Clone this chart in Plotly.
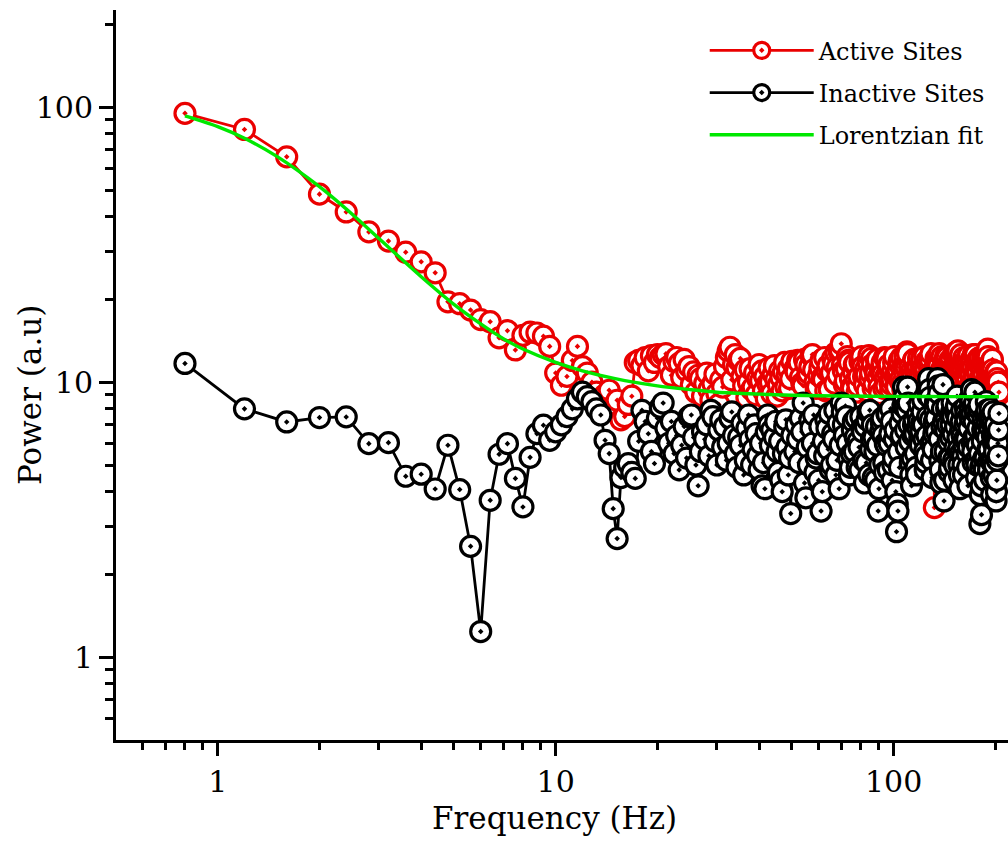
import math
import plotly.graph_objects as go

# ---------------- data ----------------
freq_low = [0.8, 1.2, 1.6, 2.0, 2.4, 2.8, 3.2, 3.6, 4.0, 4.4, 4.8, 5.2, 5.6, 6.0, 6.4, 6.8,
            7.2, 7.6, 8.0, 8.4, 8.8, 9.2, 9.6, 10.0, 10.4, 10.8, 11.2, 11.6, 12.0, 12.4,
            12.8, 13.2, 13.6, 14.0, 14.4, 14.8, 15.2, 15.6, 16.0, 16.4, 16.8, 17.2, 17.6,
            18.0, 18.4, 18.8, 19.2, 19.6, 20.0]
freq_mid = [20.4, 20.8, 21.2, 21.6, 22.0, 22.4, 22.8, 23.2, 23.6, 24.0, 24.4, 24.8, 25.2,
            25.6, 26.0, 26.4, 26.8, 27.2, 27.6, 28.0, 28.4, 28.8, 29.2, 29.6, 30.0, 30.4,
            30.8, 31.2, 31.6, 32.0, 32.4, 32.8, 33.2, 33.6, 34.0, 34.4, 34.8, 35.2, 35.6,
            36.0, 36.4, 36.8, 37.2, 37.6, 38.0, 38.4, 38.8, 39.2, 39.6, 40.0, 40.4, 40.8,
            41.2, 41.6, 42.0, 42.4, 42.8, 43.2, 43.6, 44.0, 44.4, 44.8, 45.2, 45.6, 46.0,
            46.4, 46.8, 47.2, 47.6, 48.0, 48.4, 48.8, 49.2, 49.6, 50.0]
freq_high = [51, 52, 53, 54, 55, 56, 57, 58, 59, 60, 61, 62, 63, 64, 65, 66, 67, 68, 69, 70,
             71, 72, 73, 74, 75, 76, 77, 78, 79, 80, 81, 82, 83, 84, 85, 86, 87, 88, 89, 90,
             91, 92, 93, 94, 95, 96, 97, 98, 99, 100, 101, 102, 103, 104, 105, 106, 107, 108,
             109, 110, 111, 112, 113, 114, 115, 116, 117, 118, 119, 120, 121, 122, 123, 124,
             125, 126, 127, 128, 129, 130, 131, 132, 133, 134, 135, 136, 137, 138, 139, 140,
             141, 142, 143, 144, 145, 146, 147, 148, 149, 150, 151, 152, 153, 154, 155, 156,
             157, 158, 159, 160, 161, 162, 163, 164, 165, 166, 167, 168, 169, 170, 171, 172,
             173, 174, 175, 176, 177, 178, 179, 180, 181, 182, 183, 184, 185, 186, 187, 188,
             189, 190, 191, 192, 193, 194, 195, 196, 197, 198, 199, 200, 201, 202, 203, 204,
             205]
freq_half = [51.5, 52.5, 53.5, 54.5, 55.5, 56.5, 57.5, 58.5, 59.5, 60.5,
             61.5, 62.5, 63.5, 64.5, 65.5, 66.5, 67.5, 68.5, 69.5, 70.5,
             71.5, 72.5, 73.5, 74.5, 75.5, 76.5, 77.5, 78.5, 79.5, 80.5,
             81.5, 82.5, 83.5, 84.5, 85.5, 86.5, 87.5, 88.5, 89.5, 90.5,
             91.5, 92.5, 93.5, 94.5, 95.5, 96.5, 97.5, 98.5, 99.5, 100.5,
             101.5, 102.5, 103.5, 104.5, 105.5, 106.5, 107.5, 108.5, 109.5, 110.5,
             111.5, 112.5, 113.5, 114.5, 115.5, 116.5, 117.5, 118.5, 119.5, 120.5,
             121.5, 122.5, 123.5, 124.5, 125.5, 126.5, 127.5, 128.5, 129.5, 130.5,
             131.5, 132.5, 133.5, 134.5, 135.5, 136.5, 137.5, 138.5, 139.5, 140.5,
             141.5, 142.5, 143.5, 144.5, 145.5, 146.5, 147.5, 148.5, 149.5, 150.5,
             151.5, 152.5, 153.5, 154.5, 155.5, 156.5, 157.5, 158.5, 159.5, 160.5,
             161.5, 162.5, 163.5, 164.5, 165.5, 166.5, 167.5, 168.5, 169.5, 170.5,
             171.5, 172.5, 173.5, 174.5, 175.5, 176.5, 177.5, 178.5, 179.5, 180.5,
             181.5, 182.5, 183.5, 184.5, 185.5, 186.5, 187.5, 188.5, 189.5, 190.5,
             191.5, 192.5, 193.5, 194.5, 195.5, 196.5, 197.5, 198.5, 199.5, 200.5,
             201.5, 202.5, 203.5, 204.5]

active_low = [95, 83, 66, 48.3, 41.6, 35.2, 32.6, 29.7, 27.4, 25.0, 19.6, 19.3, 18.3, 16.9,
              16.6, 14.5, 15.4, 13.1, 14.8, 15.2, 15.1, 14.7, 13.5, 10.8, 9.75, 10.5, 12.0,
              13.5, 11.4, 10.8, 10.0, 9.2, 8.7, 9.0, 9.35, 8.2, 8.6, 7.3, 7.5, 8.3, 8.9, 11.8,
              12.0, 11.5, 12.3, 11.0, 12.5, 11.8, 12.6]
active_mid = [12.3, 12.6, 12.7, 11.4, 10.6, 11.9, 12.3, 11.7, 10.4, 12.1, 11.0, 11.4, 9.8,
              10.9, 9.2, 10.6, 10.3, 8.9, 9.9, 10.8, 9.4, 8.6, 9.9, 10.7, 9.1, 8.3, 10.2, 9.6,
              11.4, 12.3, 13.0, 13.4, 10.2, 11.6, 12.6, 11.3, 12.0, 12.2, 10.5, 9.7, 11.1,
              8.8, 10.0, 11.2, 9.4, 9.6, 10.8, 9.0, 10.3, 11.6, 10.1, 11.0, 9.3, 10.5, 8.7,
              9.9, 11.3, 10.0, 9.1, 10.7, 11.5, 10.2, 8.9, 9.8, 11.0, 10.4, 9.3, 10.9, 11.8,
              9.6, 10.6, 11.2, 9.5, 10.3, 11.9]
active_high = [11.2, 12.0, 10.4, 9.7, 11.6, 10.8, 12.5, 11.1, 9.5, 10.6, 12.0, 10.2, 9.3,
               11.5, 10.7, 12.2, 9.9, 11.3, 12.9, 13.8, 11.0, 10.1, 12.4, 11.8, 9.6, 10.9,
               11.7, 9.2, 10.5, 12.1, 11.4, 9.8, 10.6, 11.9, 10.3, 12.2, 9.5, 11.0, 12.0, 10.4,
               9.1, 11.3, 10.7, 12.3, 9.7, 10.8, 11.6, 9.4, 10.2, 11.8, 10.5, 9.6, 11.1, 12.0,
               10.3, 9.9, 11.5, 12.4, 11.2, 12.7, 10.0, 9.4, 11.0, 10.6, 12.1, 9.8, 10.9, 11.4,
               9.5, 10.7, 12.2, 11.3, 9.7, 10.4, 11.9, 10.1, 9.3, 11.6, 12.7, 10.8, 9.6, 3.5,
               11.2, 10.3, 12.0, 11.5, 9.9, 10.6, 12.4, 11.1, 9.4, 10.8, 11.7, 12.3, 10.2, 9.6,
               11.0, 12.1, 10.5, 9.8, 11.4, 10.7, 12.5, 11.3, 13.0, 10.4, 9.7, 12.6, 11.2, 10.0,
               9.5, 11.8, 11.4, 10.3, 12.2, 11.0, 9.6, 10.8, 12.0, 11.5, 9.9, 12.6, 10.6, 9.3,
               11.2, 11.9, 10.1, 9.7, 11.6, 12.3, 10.4, 9.8, 11.1, 12.0, 10.7, 9.4, 11.3, 12.5,
               12.8, 13.2, 11.0, 10.2, 11.7, 9.6, 10.8, 12.1, 10.4, 9.5, 9.1, 10.6, 9.8, 10.9,
               9.3, 10.0, 9.2]
active_half = [10.9, 11.8, 9.9, 12.1, 10.5, 11.4, 12.6, 10.0, 9.6, 11.3,
               10.4, 12.3, 11.0, 9.4, 10.8, 11.7, 12.8, 10.6, 13.1, 11.5,
               9.8, 11.2, 12.0, 10.3, 9.5, 11.6, 10.2, 9.7, 11.9, 12.4,
               10.5, 11.1, 9.3, 12.5, 10.8, 11.6, 9.9, 10.7, 12.1, 9.6,
               10.9, 11.8, 9.5, 10.4, 12.2, 11.3, 10.0, 9.8, 11.0, 12.4,
               9.7, 10.6, 11.7, 10.1, 12.3, 9.4, 10.9, 11.5, 12.9, 10.5,
               11.3, 9.9, 10.4, 12.0, 11.1, 9.5, 10.7, 12.2, 10.0, 11.6,
               9.7, 10.8, 12.4, 11.2, 9.4, 10.5, 11.9, 12.1, 10.3, 11.0,
               9.6, 10.7, 12.2, 11.4, 9.9, 12.7, 10.4, 11.1, 9.5, 11.8,
               10.9, 12.4, 9.7, 10.5, 11.6, 12.0, 9.8, 10.6, 11.3, 12.6,
               10.1, 11.7, 12.9, 9.6, 10.8, 11.5, 12.2, 10.3, 9.4, 11.0,
               12.3, 10.6, 9.8, 11.9, 10.2, 12.5, 11.1, 9.5, 10.7, 12.1,
               11.3, 9.9, 10.5, 12.6, 11.0, 9.6, 10.9, 12.2, 11.6, 10.0,
               9.7, 11.4, 12.3, 10.4, 11.8, 9.9, 12.7, 11.2, 10.6, 12.4,
               10.1, 11.5, 9.8, 10.7, 12.0, 11.1, 9.4, 10.4, 9.7, 10.9,
               9.5, 10.3, 9.9, 9.0]

inactive_low = [11.7, 8.0, 7.17, 7.44, 7.48, 5.98, 6.03, 4.55, 4.63, 4.09, 5.90, 4.07, 2.53,
                1.24, 3.72, 5.47, 5.98, 4.47, 3.52, 5.33, 6.5, 6.98, 6.15, 6.6, 7.0, 7.5, 8.0,
                8.7, 9.2, 8.86, 8.5, 8.0, 7.6, 6.15, 5.5, 3.47, 2.70, 4.5, 4.9, 5.06, 4.7, 4.47,
                6.1, 7.9, 7.2, 6.5, 5.6, 5.06, 7.4]
inactive_mid = [8.1, 8.4, 6.8, 6.0, 7.2, 5.5, 6.4, 4.8, 5.9, 6.9, 5.3, 7.5, 7.6, 6.3, 5.0,
                4.2, 5.6, 6.6, 6.2, 7.0, 5.4, 7.9, 7.5, 6.1, 5.0, 6.7, 7.3, 5.8, 6.9, 5.2, 6.0,
                7.4, 7.8, 6.4, 5.5, 4.9, 6.3, 5.9, 7.1, 4.6, 5.2, 6.8, 7.6, 6.2, 5.0, 5.7, 7.0,
                6.5, 5.4, 4.8, 6.0, 4.2, 5.1, 4.1, 6.6, 7.6, 7.0, 5.9, 6.7, 5.2, 6.3, 7.2, 5.6,
                4.7, 6.1, 4.4, 4.0, 5.5, 6.9, 7.3, 5.8, 4.6, 5.3, 3.33, 6.4]
inactive_high = [5.6, 6.2, 7.4, 8.4, 3.8, 5.0, 6.8, 7.6, 5.3, 4.4, 3.4, 6.1, 7.3, 5.7, 4.8,
                 6.5, 7.9, 5.2, 4.1, 8.4, 7.0, 8.2, 6.0, 4.6, 5.5, 7.2, 6.3, 4.9, 5.8, 7.5, 6.6,
                 4.3, 5.1, 7.8, 7.9, 6.2, 4.5, 5.6, 6.9, 3.4, 5.0, 7.1, 6.4, 4.7, 5.9, 7.6, 6.0,
                 8.0, 4.4, 5.3, 6.7, 2.86, 3.4, 4.9, 6.3, 7.7, 9.6, 8.1, 5.8, 9.6, 7.0, 5.1, 4.2,
                 6.4, 7.3, 5.5, 4.6, 6.8, 8.3, 5.9, 7.1, 8.6, 6.2, 4.8, 5.4, 7.5, 10.3, 8.8, 6.0,
                 4.5, 5.7, 7.2, 8.5, 6.6, 10.3, 9.1, 5.2, 4.3, 6.9, 9.8, 3.7, 5.6, 7.4, 8.2, 6.1,
                 4.7, 5.3, 7.0, 8.4, 6.5, 4.4, 5.8, 7.7, 8.9, 6.3, 5.0, 4.1, 6.7, 7.9, 5.4, 4.6,
                 6.2, 8.1, 7.3, 5.5, 4.2, 6.8, 8.7, 7.4, 9.4, 6.0, 5.1, 7.2, 9.2, 6.4, 4.5, 5.9,
                 7.6, 8.3, 3.06, 4.9, 3.3, 6.1, 7.4, 5.3, 4.4, 6.6, 8.5, 7.1, 5.7, 4.8, 6.9, 8.0,
                 5.2, 3.9, 6.4, 7.8, 4.6, 5.6, 7.0, 3.7, 4.4, 6.3, 5.4, 7.7]
inactive_half = [7.0, 5.1, 6.6, 4.3, 5.8, 7.3, 6.0, 4.7, 5.5, 6.9,
                 4.0, 5.4, 6.8, 7.7, 5.0, 6.2, 4.6, 7.1, 5.9, 7.8,
                 6.4, 7.5, 5.3, 4.9, 6.7, 5.6, 7.4, 6.1, 4.8, 6.8,
                 5.2, 6.9, 7.3, 4.6, 5.7, 7.0, 6.3, 4.4, 5.9, 4.1,
                 6.6, 7.4, 5.1, 6.0, 7.7, 4.8, 6.5, 7.2, 5.0, 6.2,
                 4.0, 3.6, 5.6, 7.1, 6.4, 8.2, 8.8, 6.7, 7.9, 8.4,
                 6.1, 4.6, 5.3, 7.0, 6.5, 4.9, 7.6, 7.2, 6.3, 6.6,
                 7.8, 7.0, 5.6, 5.1, 6.4, 8.9, 9.4, 7.3, 5.2, 6.1,
                 6.5, 7.9, 7.4, 8.3, 9.7, 6.2, 4.8, 5.6, 8.0, 7.2,
                 4.4, 6.7, 8.0, 7.0, 5.3, 4.9, 6.3, 7.8, 7.5, 5.2,
                 5.0, 6.9, 8.2, 7.4, 5.7, 4.6, 5.5, 7.2, 6.4, 5.0,
                 5.9, 7.0, 7.7, 6.2, 4.9, 5.8, 7.6, 8.0, 8.6, 7.7,
                 5.6, 6.3, 8.4, 7.8, 5.2, 5.0, 6.8, 8.0, 5.5, 3.9,
                 4.2, 5.1, 6.7, 6.6, 4.8, 5.3, 7.5, 7.9, 6.3, 5.1,
                 5.7, 7.6, 7.2, 4.5, 5.1, 7.1, 6.0, 5.0, 6.4, 6.1,
                 4.0, 5.2, 6.0, 6.7]

fit_freq = [0.8, 1.0, 1.2, 1.5, 2.0, 2.5, 3.0, 4.0, 5.0, 6.0, 7.0, 8.0, 10, 12, 15, 20, 25,
            30, 40, 50, 70, 100, 150, 205]
fit_power = [93.0, 85.0, 77.1, 66.1, 51.4, 40.8, 33.3, 24.2, 19.2, 16.3, 14.4, 13.2, 11.8,
             11.0, 10.3, 9.7, 9.4, 9.2, 9.05, 8.97, 8.91, 8.88, 8.86, 8.855]

x_ticks = [1, 10, 100]
x_ticktext = ["1", "10", "100"]
y_ticks = [1, 10, 100]
y_ticktext = ["1", "10", "100"]
minor_vals = [0.6, 0.7, 0.8, 0.9, 2, 3, 4, 5, 6, 7, 8, 9, 20, 30, 40, 50, 60, 70, 80, 90, 200]


def merged(*pairs_):
    pts = []
    for fs, vs in pairs_:
        n = min(len(fs), len(vs))
        pts.extend(zip(fs[:n], vs[:n]))
    pts.sort(key=lambda p: p[0])
    return [p[0] for p in pts], [p[1] for p in pts]


fa, va = merged((freq_low, active_low), (freq_mid, active_mid),
                (freq_high, active_high), (freq_half, active_half))
fb, vb = merged((freq_low, inactive_low), (freq_mid, inactive_mid),
                (freq_high, inactive_high), (freq_half, inactive_half))

RED = "rgb(234,0,0)"
BLACK = "rgb(0,0,0)"
GREEN = "rgb(0,232,0)"
FONT = "DejaVu Serif"

fig = go.Figure()
fig.add_trace(go.Scatter(
    x=fa, y=va, mode="lines+markers", name="Active Sites", legendgroup="a",
    line=dict(color=RED, width=2.8),
    marker=dict(symbol="circle-dot", size=20, color="white", line=dict(color=RED, width=3.2)),
))
fig.add_trace(go.Scatter(
    x=fb, y=vb, mode="lines+markers", name="Inactive Sites", legendgroup="b",
    line=dict(color=BLACK, width=2.8),
    marker=dict(symbol="circle-dot", size=20, color="white", line=dict(color=BLACK, width=3.2)),
))
fig.add_trace(go.Scatter(
    x=fit_freq, y=fit_power, mode="lines", name="Lorentzian fit", legendgroup="c",
    line=dict(color=GREEN, width=3.4, shape="spline", smoothing=0.8),
))

axis_common = dict(
    type="log", showline=True, linewidth=3, linecolor="black", mirror=False,
    showgrid=False, zeroline=False, ticks="outside", tickwidth=3, tickcolor="black",
    tickfont=dict(family=FONT, size=30, color="black"),
)

fig.update_xaxes(
    **axis_common,
    range=[math.log10(0.5), math.log10(218)],
    tickmode="array", tickvals=x_ticks, ticktext=x_ticktext, ticklen=13,
    minor=dict(tickmode="array", tickvals=minor_vals, ticks="outside", ticklen=7,
               tickwidth=3, tickcolor="black"),
)
fig.update_yaxes(
    **axis_common,
    range=[math.log10(0.5), math.log10(225.7)],
    tickmode="array", tickvals=y_ticks, ticktext=y_ticktext, ticklen=14,
    minor=dict(tickmode="array", tickvals=minor_vals, ticks="outside", ticklen=8,
               tickwidth=3, tickcolor="black"),
)

fig.update_layout(
    width=1008, height=852,
    margin=dict(l=116, r=0, t=10, b=112),
    paper_bgcolor="white", plot_bgcolor="white",
    showlegend=True,
    legend=dict(x=0.66, y=0.975, xanchor="left", yanchor="top",
                font=dict(family=FONT, size=24, color="black"),
                bgcolor="rgba(255,255,255,0)", borderwidth=0,
                itemwidth=104, tracegroupgap=8),
    font=dict(family=FONT, color="black"),
    annotations=[
        dict(text="Frequency (Hz)", xref="paper", yref="paper", x=0.492, y=-0.1068,
             xanchor="center", yanchor="middle", showarrow=False,
             font=dict(family=FONT, size=31, color="black")),
        dict(text="Power (a.u)", xref="paper", yref="paper", x=-0.0964, y=0.4726,
             xanchor="center", yanchor="middle", showarrow=False, textangle=-90,
             font=dict(family=FONT, size=31, color="black")),
    ],
)

fig.write_html("out.html")
